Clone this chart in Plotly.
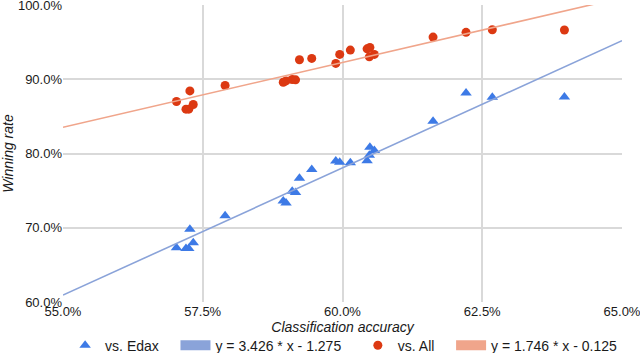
import plotly.graph_objects as go

# classification accuracy (shared by both series)
accuracy = [0.5703, 0.5720, 0.5725, 0.5727, 0.5733, 0.5790, 0.5894, 0.5899,
            0.5910, 0.5916, 0.5923, 0.5945, 0.5988, 0.5995, 0.6014, 0.6044,
            0.6049, 0.6048, 0.6057, 0.6162, 0.6221, 0.6268, 0.6397]

# winning rate vs. Edax
win_edax = [0.6730, 0.6721, 0.6721, 0.6981, 0.6798, 0.7162, 0.7359, 0.7332,
            0.7490, 0.7476, 0.7665, 0.7783, 0.7899, 0.7881, 0.7877, 0.7904,
            0.8084, 0.7976, 0.8039, 0.8435, 0.8816, 0.8758, 0.8762]

# winning rate vs. All
win_all = [0.8700, 0.8597, 0.8597, 0.8843, 0.8660, 0.8916, 0.8960, 0.8978,
           0.8997, 0.8992, 0.9262, 0.9281, 0.9213, 0.9335, 0.9393, 0.9410,
           0.9429, 0.9302, 0.9335, 0.9568, 0.9632, 0.9667, 0.9663]

# trendline coefficients shown in the legend
edax_slope, edax_icept = 3.426, -1.275
all_slope, all_icept = 1.746, -0.125

x_range = [0.55, 0.65]
x_ticks = [0.55, 0.575, 0.60, 0.625, 0.65]
y_ticks = [0.6, 0.7, 0.8, 0.9, 1.0]

font = "Liberation Sans, Arial, Helvetica, sans-serif"
pad = "\u00a0" * 3  # extra room between legend entries

fig = go.Figure()

fig.add_trace(go.Scatter(x=accuracy, y=win_edax, mode="markers", name="vs. Edax" + pad,
                         marker=dict(symbol="triangle-up", size=10, color="#3d7ae6")))
fig.add_trace(go.Scatter(x=x_range, y=[edax_slope * v + edax_icept for v in x_range],
                         mode="lines", showlegend=False,
                         line=dict(color="#8aa3d9", width=1.6)))
fig.add_trace(go.Scatter(x=[None], y=[None], mode="lines",
                         name="y = 3.426 * x - 1.275" + pad,
                         line=dict(color="#8aa3d9", width=15)))

fig.add_trace(go.Scatter(x=accuracy, y=win_all, mode="markers", name="vs. All" + pad,
                         marker=dict(symbol="circle", size=9, color="#dc3912")))
fig.add_trace(go.Scatter(x=x_range, y=[all_slope * v + all_icept for v in x_range],
                         mode="lines", showlegend=False,
                         line=dict(color="#f0a58b", width=1.6)))
fig.add_trace(go.Scatter(x=[None], y=[None], mode="lines",
                         name="y = 1.746 * x - 0.125",
                         line=dict(color="#f0a58b", width=15)))

fig.update_layout(
    width=640, height=353,
    margin=dict(l=63, r=18, t=5, b=51, autoexpand=False),
    paper_bgcolor="white", plot_bgcolor="white",
    font=dict(family=font, size=13, color="#1a1a1a"),
    legend=dict(orientation="h", x=0.502, xanchor="center", y=-0.093,
                yanchor="top", font=dict(size=14), itemwidth=30),
    xaxis=dict(range=x_range, tickvals=x_ticks, tickformat=".1%",
               ticklabeloverflow="allow",
               showgrid=True, gridcolor="#d9d9d9", gridwidth=1.5,
               zeroline=False, showline=False, ticks="",
               title=dict(text="<i>Classification accuracy</i>",
                          font=dict(size=14), standoff=2)),
    yaxis=dict(range=[0.6, 1.0], tickvals=y_ticks, tickformat=".1%",
               ticklabeloverflow="allow",
               showgrid=True, gridcolor="#d9d9d9", gridwidth=1.5,
               zeroline=False, showline=False, ticks="",
               title=dict(text="<i>Winning rate</i>",
                          font=dict(size=14), standoff=6)),
)

# drop the browser's default page margin so the 640x353 figure fills the window
fig.write_html("out.html", config={"displayModeBar": False},
               post_script="document.body.style.margin = '0';")
